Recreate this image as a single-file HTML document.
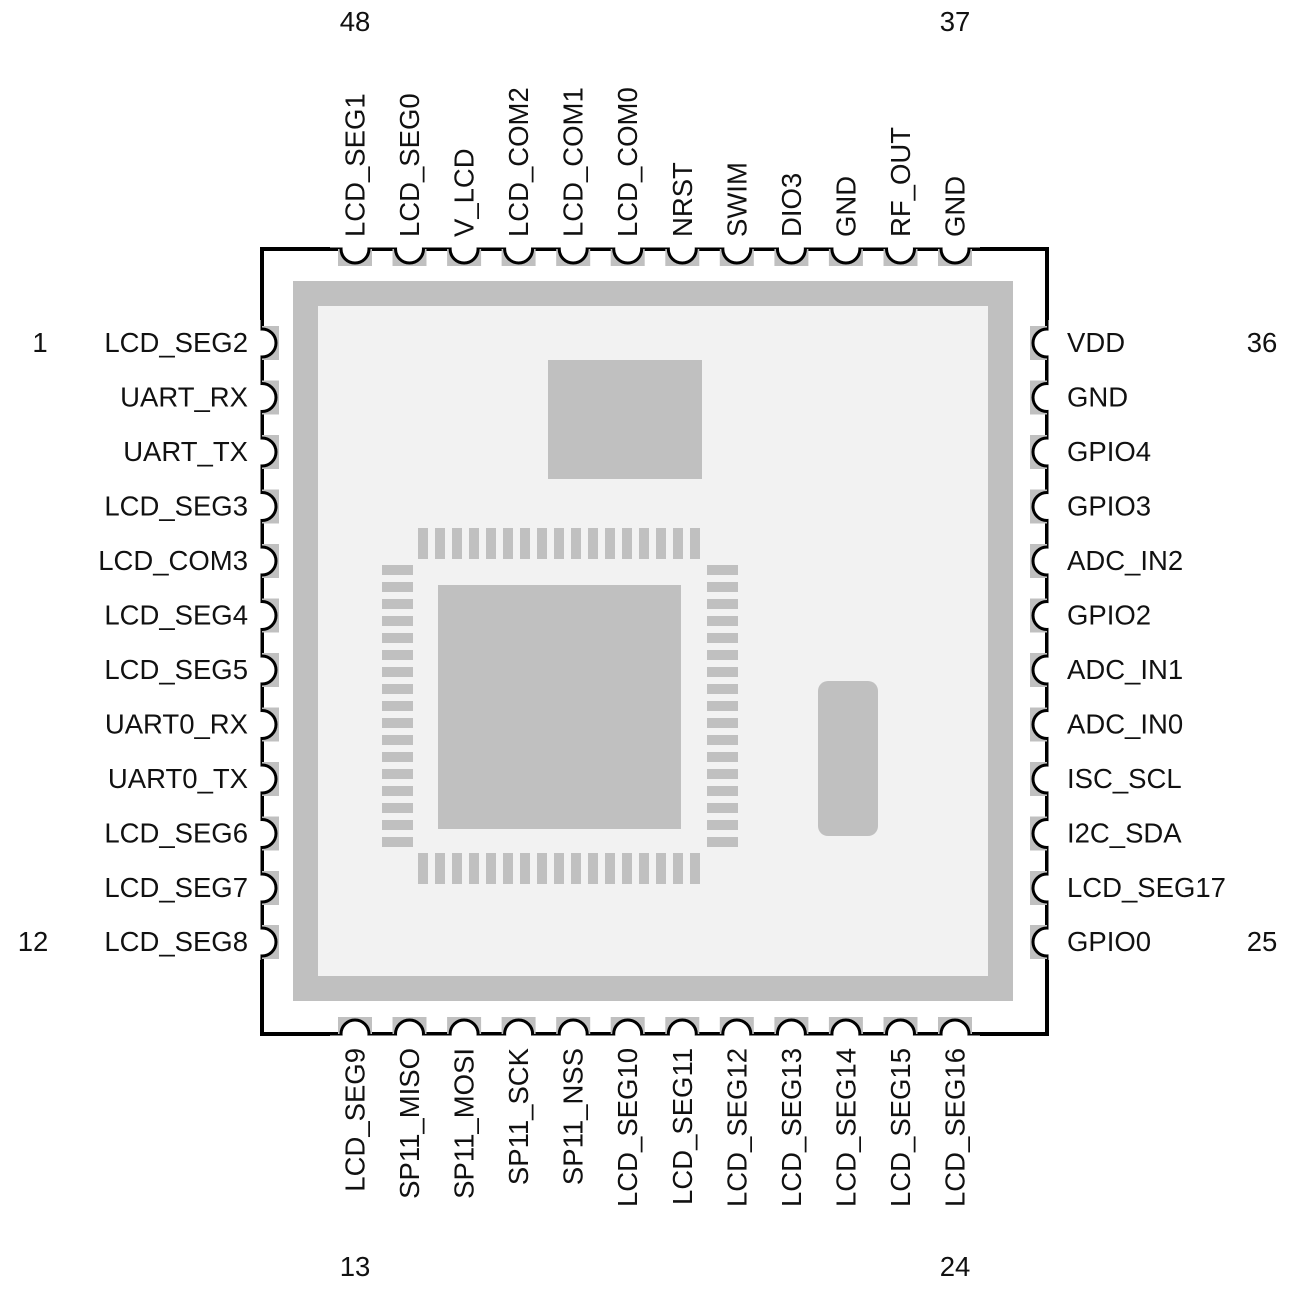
<!DOCTYPE html>
<html><head><meta charset="utf-8"><style>html,body{margin:0;padding:0;background:#fff}svg{display:block}text{font-family:"Liberation Sans",sans-serif;font-size:27.5px;fill:#111}</style></head><body>
<svg width="1300" height="1300" viewBox="0 0 1300 1300" xmlns="http://www.w3.org/2000/svg">
<rect x="262" y="249" width="785" height="785" fill="#fff" stroke="#000" stroke-width="4"/>
<rect x="305.5" y="293.5" width="695" height="695" fill="#f2f2f2" stroke="#c0c0c0" stroke-width="25"/>
<rect x="548" y="360" width="154" height="119" fill="#c0c0c0"/>
<rect x="438" y="585" width="243" height="244" fill="#c0c0c0"/>
<rect x="818" y="681" width="60" height="155" rx="10" fill="#c0c0c0"/>
<g fill="#c0c0c0">
<rect x="418" y="528" width="10" height="31"/><rect x="435" y="528" width="10" height="31"/><rect x="452" y="528" width="10" height="31"/><rect x="469" y="528" width="10" height="31"/><rect x="486" y="528" width="10" height="31"/><rect x="503" y="528" width="10" height="31"/><rect x="520" y="528" width="10" height="31"/><rect x="537" y="528" width="10" height="31"/><rect x="554" y="528" width="10" height="31"/><rect x="571" y="528" width="10" height="31"/><rect x="588" y="528" width="10" height="31"/><rect x="605" y="528" width="10" height="31"/><rect x="622" y="528" width="10" height="31"/><rect x="639" y="528" width="10" height="31"/><rect x="656" y="528" width="10" height="31"/><rect x="673" y="528" width="10" height="31"/><rect x="690" y="528" width="10" height="31"/>
<rect x="418" y="853" width="10" height="31"/><rect x="435" y="853" width="10" height="31"/><rect x="452" y="853" width="10" height="31"/><rect x="469" y="853" width="10" height="31"/><rect x="486" y="853" width="10" height="31"/><rect x="503" y="853" width="10" height="31"/><rect x="520" y="853" width="10" height="31"/><rect x="537" y="853" width="10" height="31"/><rect x="554" y="853" width="10" height="31"/><rect x="571" y="853" width="10" height="31"/><rect x="588" y="853" width="10" height="31"/><rect x="605" y="853" width="10" height="31"/><rect x="622" y="853" width="10" height="31"/><rect x="639" y="853" width="10" height="31"/><rect x="656" y="853" width="10" height="31"/><rect x="673" y="853" width="10" height="31"/><rect x="690" y="853" width="10" height="31"/>
<rect x="382" y="565" width="31" height="10"/><rect x="382" y="582" width="31" height="10"/><rect x="382" y="599" width="31" height="10"/><rect x="382" y="616" width="31" height="10"/><rect x="382" y="633" width="31" height="10"/><rect x="382" y="650" width="31" height="10"/><rect x="382" y="667" width="31" height="10"/><rect x="382" y="684" width="31" height="10"/><rect x="382" y="701" width="31" height="10"/><rect x="382" y="718" width="31" height="10"/><rect x="382" y="735" width="31" height="10"/><rect x="382" y="752" width="31" height="10"/><rect x="382" y="769" width="31" height="10"/><rect x="382" y="786" width="31" height="10"/><rect x="382" y="803" width="31" height="10"/><rect x="382" y="820" width="31" height="10"/><rect x="382" y="837" width="31" height="10"/>
<rect x="707" y="565" width="31" height="10"/><rect x="707" y="582" width="31" height="10"/><rect x="707" y="599" width="31" height="10"/><rect x="707" y="616" width="31" height="10"/><rect x="707" y="633" width="31" height="10"/><rect x="707" y="650" width="31" height="10"/><rect x="707" y="667" width="31" height="10"/><rect x="707" y="684" width="31" height="10"/><rect x="707" y="701" width="31" height="10"/><rect x="707" y="718" width="31" height="10"/><rect x="707" y="735" width="31" height="10"/><rect x="707" y="752" width="31" height="10"/><rect x="707" y="769" width="31" height="10"/><rect x="707" y="786" width="31" height="10"/><rect x="707" y="803" width="31" height="10"/><rect x="707" y="820" width="31" height="10"/><rect x="707" y="837" width="31" height="10"/>
</g>
<g fill="#c0c0c0">
<rect x="338" y="249" width="34" height="17"/><rect x="392.5" y="249" width="34" height="17"/><rect x="447.1" y="249" width="34" height="17"/><rect x="501.6" y="249" width="34" height="17"/><rect x="556.2" y="249" width="34" height="17"/><rect x="610.7" y="249" width="34" height="17"/><rect x="665.3" y="249" width="34" height="17"/><rect x="719.8" y="249" width="34" height="17"/><rect x="774.4" y="249" width="34" height="17"/><rect x="828.9" y="249" width="34" height="17"/><rect x="883.5" y="249" width="34" height="17"/><rect x="938" y="249" width="34" height="17"/>
<rect x="338" y="1017" width="34" height="17"/><rect x="392.5" y="1017" width="34" height="17"/><rect x="447.1" y="1017" width="34" height="17"/><rect x="501.6" y="1017" width="34" height="17"/><rect x="556.2" y="1017" width="34" height="17"/><rect x="610.7" y="1017" width="34" height="17"/><rect x="665.3" y="1017" width="34" height="17"/><rect x="719.8" y="1017" width="34" height="17"/><rect x="774.4" y="1017" width="34" height="17"/><rect x="828.9" y="1017" width="34" height="17"/><rect x="883.5" y="1017" width="34" height="17"/><rect x="938" y="1017" width="34" height="17"/>
<rect x="262" y="326" width="17" height="34"/><rect x="262" y="380.5" width="17" height="34"/><rect x="262" y="435" width="17" height="34"/><rect x="262" y="489.5" width="17" height="34"/><rect x="262" y="544" width="17" height="34"/><rect x="262" y="598.5" width="17" height="34"/><rect x="262" y="653" width="17" height="34"/><rect x="262" y="707.5" width="17" height="34"/><rect x="262" y="762" width="17" height="34"/><rect x="262" y="816.5" width="17" height="34"/><rect x="262" y="871" width="17" height="34"/><rect x="262" y="925" width="17" height="34"/>
<rect x="1030" y="326" width="17" height="34"/><rect x="1030" y="380.5" width="17" height="34"/><rect x="1030" y="435" width="17" height="34"/><rect x="1030" y="489.5" width="17" height="34"/><rect x="1030" y="544" width="17" height="34"/><rect x="1030" y="598.5" width="17" height="34"/><rect x="1030" y="653" width="17" height="34"/><rect x="1030" y="707.5" width="17" height="34"/><rect x="1030" y="762" width="17" height="34"/><rect x="1030" y="816.5" width="17" height="34"/><rect x="1030" y="871" width="17" height="34"/><rect x="1030" y="925" width="17" height="34"/>
</g>
<g fill="#fff" stroke="#000" stroke-width="3">
<circle cx="355" cy="249" r="14"/><circle cx="409.5" cy="249" r="14"/><circle cx="464.1" cy="249" r="14"/><circle cx="518.6" cy="249" r="14"/><circle cx="573.2" cy="249" r="14"/><circle cx="627.7" cy="249" r="14"/><circle cx="682.3" cy="249" r="14"/><circle cx="736.8" cy="249" r="14"/><circle cx="791.4" cy="249" r="14"/><circle cx="845.9" cy="249" r="14"/><circle cx="900.5" cy="249" r="14"/><circle cx="955" cy="249" r="14"/>
<circle cx="355" cy="1034" r="14"/><circle cx="409.5" cy="1034" r="14"/><circle cx="464.1" cy="1034" r="14"/><circle cx="518.6" cy="1034" r="14"/><circle cx="573.2" cy="1034" r="14"/><circle cx="627.7" cy="1034" r="14"/><circle cx="682.3" cy="1034" r="14"/><circle cx="736.8" cy="1034" r="14"/><circle cx="791.4" cy="1034" r="14"/><circle cx="845.9" cy="1034" r="14"/><circle cx="900.5" cy="1034" r="14"/><circle cx="955" cy="1034" r="14"/>
<circle cx="262" cy="343" r="14"/><circle cx="262" cy="397.5" r="14"/><circle cx="262" cy="452" r="14"/><circle cx="262" cy="506.5" r="14"/><circle cx="262" cy="561" r="14"/><circle cx="262" cy="615.5" r="14"/><circle cx="262" cy="670" r="14"/><circle cx="262" cy="724.5" r="14"/><circle cx="262" cy="779" r="14"/><circle cx="262" cy="833.5" r="14"/><circle cx="262" cy="888" r="14"/><circle cx="262" cy="942" r="14"/>
<circle cx="1047" cy="343" r="14"/><circle cx="1047" cy="397.5" r="14"/><circle cx="1047" cy="452" r="14"/><circle cx="1047" cy="506.5" r="14"/><circle cx="1047" cy="561" r="14"/><circle cx="1047" cy="615.5" r="14"/><circle cx="1047" cy="670" r="14"/><circle cx="1047" cy="724.5" r="14"/><circle cx="1047" cy="779" r="14"/><circle cx="1047" cy="833.5" r="14"/><circle cx="1047" cy="888" r="14"/><circle cx="1047" cy="942" r="14"/>
</g>
<g fill="#fff">
<rect x="330" y="230" width="650" height="17.5"/>
<rect x="330" y="1035.5" width="650" height="18"/>
<rect x="240" y="320" width="20.5" height="640"/>
<rect x="1048.5" y="320" width="20" height="640"/>
</g>
<g text-anchor="end">
<text x="248" y="352">LCD_SEG2</text><text x="248" y="406.5">UART_RX</text><text x="248" y="461">UART_TX</text><text x="248" y="515.5">LCD_SEG3</text><text x="248" y="570">LCD_COM3</text><text x="248" y="624.5">LCD_SEG4</text><text x="248" y="679">LCD_SEG5</text><text x="248" y="733.5">UART0_RX</text><text x="248" y="788">UART0_TX</text><text x="248" y="842.5">LCD_SEG6</text><text x="248" y="897">LCD_SEG7</text><text x="248" y="951">LCD_SEG8</text>
</g>
<g text-anchor="start">
<text x="1067" y="352">VDD</text><text x="1067" y="406.5">GND</text><text x="1067" y="461">GPIO4</text><text x="1067" y="515.5">GPIO3</text><text x="1067" y="570">ADC_IN2</text><text x="1067" y="624.5">GPIO2</text><text x="1067" y="679">ADC_IN1</text><text x="1067" y="733.5">ADC_IN0</text><text x="1067" y="788">ISC_SCL</text><text x="1067" y="842.5">I2C_SDA</text><text x="1067" y="897">LCD_SEG17</text><text x="1067" y="951">GPIO0</text>
</g>
<g text-anchor="start">
<text transform="translate(364.5,237) rotate(-90)">LCD_SEG1</text><text transform="translate(419,237) rotate(-90)">LCD_SEG0</text><text transform="translate(473.6,237) rotate(-90)">V_LCD</text><text transform="translate(528.1,237) rotate(-90)">LCD_COM2</text><text transform="translate(582.7,237) rotate(-90)">LCD_COM1</text><text transform="translate(637.2,237) rotate(-90)">LCD_COM0</text><text transform="translate(691.8,237) rotate(-90)">NRST</text><text transform="translate(746.3,237) rotate(-90)">SWIM</text><text transform="translate(800.9,237) rotate(-90)">DIO3</text><text transform="translate(855.4,237) rotate(-90)">GND</text><text transform="translate(910,237) rotate(-90)">RF_OUT</text><text transform="translate(964.5,237) rotate(-90)">GND</text>
</g>
<g text-anchor="end">
<text transform="translate(364.5,1048) rotate(-90)">LCD_SEG9</text><text transform="translate(419,1048) rotate(-90)">SP11_MISO</text><text transform="translate(473.6,1048) rotate(-90)">SP11_MOSI</text><text transform="translate(528.1,1048) rotate(-90)">SP11_SCK</text><text transform="translate(582.7,1048) rotate(-90)">SP11_NSS</text><text transform="translate(637.2,1048) rotate(-90)">LCD_SEG10</text><text transform="translate(691.8,1048) rotate(-90)">LCD_SEG11</text><text transform="translate(746.3,1048) rotate(-90)">LCD_SEG12</text><text transform="translate(800.9,1048) rotate(-90)">LCD_SEG13</text><text transform="translate(855.4,1048) rotate(-90)">LCD_SEG14</text><text transform="translate(910,1048) rotate(-90)">LCD_SEG15</text><text transform="translate(964.5,1048) rotate(-90)">LCD_SEG16</text>
</g>
<g text-anchor="middle">
<text x="355" y="31">48</text><text x="955" y="31">37</text>
<text x="40" y="352">1</text><text x="1262" y="352">36</text>
<text x="33" y="951">12</text><text x="1262" y="951">25</text>
<text x="355" y="1276">13</text><text x="955" y="1276">24</text>
</g>
</svg>
</body></html>
